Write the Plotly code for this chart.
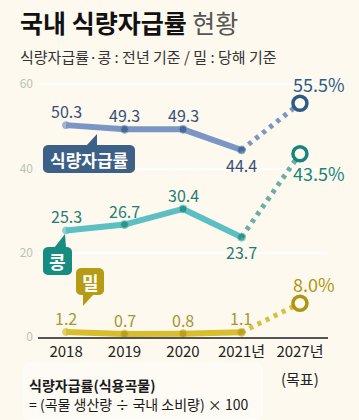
import math
import plotly.graph_objects as go

# ---------------- data ----------------
years = ["2018", "2019", "2020", "2021년", "2027년"]
target_note = "(목표)"
x_idx = [0, 1, 2, 3]
x_target = 4

food = [50.3, 49.3, 49.3, 44.4]
food_target = 55.5
soy = [25.3, 26.7, 30.4, 23.7]
soy_target = 43.5
wheat = [1.2, 0.7, 0.8, 1.1]
wheat_target = 8.0

y_ticks = [0, 20, 40, 60]

# ---------------- style ----------------
BG = "#fdf9ee"
FONT = "Noto Sans CJK KR"
W, H = 359, 420
ML, MR, MT, MB = 38, 31, 59, 83
PW, PH = W - ML - MR, H - MT - MB


def P(px, py):
    return (px - ML) / PW, (H - MB - py) / PH


series = [
    dict(name="식량자급률", y=food, t=food_target, line="#7b96c4", dot="#7b96c4",
         mk="#2e5b86", txt="#36507a", box="#3d6186",
         pos=[1, 1, 1, -1], tshift=(19, 19)),
    dict(name="콩", y=soy, t=soy_target, line="#5cc0c2", dot="#6aaea6",
         mk="#16857a", txt="#1f7d74", box="#178c80",
         pos=[1, 1, 1, -1], tshift=(19, -19)),
    dict(name="밀", y=wheat, t=wheat_target, line="#d8bd2e", dot="#d6c23a",
         mk="#ae9513", txt="#a89530", box="#b59c14",
         pos=[1, 1, 1, 1], tshift=(14, 19)),
]

fig = go.Figure()
annotations = []

for s in series:
    # projection (dotted)
    fig.add_trace(go.Scatter(
        x=[x_idx[-1], x_target], y=[s["y"][-1], s["t"]], mode="lines",
        line=dict(color=s["dot"], width=5, dash="4px,5px"),
        hoverinfo="skip", showlegend=False, cliponaxis=False))
    # solid line
    fig.add_trace(go.Scatter(
        x=x_idx, y=s["y"], mode="lines+markers",
        line=dict(color=s["line"], width=6),
        marker=dict(size=[7, 8, 8, 8], color=[s["line"], s["mk"], s["mk"], s["mk"]]),
        hoverinfo="skip", showlegend=False, cliponaxis=False))
    # target circle
    fig.add_trace(go.Scatter(
        x=[x_target], y=[s["t"]], mode="markers",
        marker=dict(size=14, color=BG, line=dict(color=s["mk"], width=3.5)),
        hoverinfo="skip", showlegend=False, cliponaxis=False))
    # value labels
    for xi, v, p in zip(x_idx, s["y"], s["pos"]):
        annotations.append(dict(
            x=xi, y=v, xref="x", yref="y", text=f"{v:.1f}", showarrow=False,
            yshift=14 if p > 0 else -15,
            font=dict(family=FONT, size=16, color=s["txt"])))
    annotations.append(dict(
        x=x_target, y=s["t"], xref="x", yref="y", text=f"{s['t']:.1f}%",
        showarrow=False, xshift=s["tshift"][0], yshift=s["tshift"][1],
        font=dict(family=FONT, size=18, color=s["mk"])))


# ------------- callout boxes -------------
def rounded_rect(x0, y0, x1, y1, r=5, n=6):
    pts = []
    corners = [(x1 - r, y0 + r, -90), (x1 - r, y1 - r, 0),
               (x0 + r, y1 - r, 90), (x0 + r, y0 + r, 180)]
    for cx, cy, a0 in corners:
        for k in range(n + 1):
            a = math.radians(a0 + 90 * k / n)
            pts.append((cx + r * math.cos(a), cy + r * math.sin(a)))
    return pts


def path_of(pts):
    s = []
    for i, (px, py) in enumerate(pts):
        x, y = P(px, py)
        s.append(("M" if i == 0 else "L") + f"{x:.5f},{y:.5f}")
    return " ".join(s) + " Z"


shapes = []
callouts = [
    (series[0], (43, 145, 135, 173), [(86, 146), (97, 146), (97, 134)], 17),
    (series[1], (43, 247, 72, 275), [(54, 248), (66, 248), (65, 234)], 18),
    (series[2], (76, 268, 104, 295), [(83, 294), (94, 294), (83, 306)], 18),
]
for s, (x0, y0, x1, y1), tri, fs in callouts:
    shapes.append(dict(type="path", xref="paper", yref="paper",
                       path=path_of(rounded_rect(x0, y0, x1, y1)),
                       fillcolor=s["box"], line=dict(width=0), layer="above"))
    shapes.append(dict(type="path", xref="paper", yref="paper",
                       path=path_of(tri), fillcolor=s["box"], line=dict(width=0),
                       layer="above"))
    cx, cy = P((x0 + x1) / 2, (y0 + y1) / 2)
    annotations.append(dict(x=cx, y=cy, xref="paper", yref="paper",
                            text=f"<b>{s['name']}</b>", showarrow=False,
                            xanchor="center", yanchor="middle",
                            font=dict(family=FONT, size=fs, color="white")))

# footer box
shapes.append(dict(type="path", xref="paper", yref="paper",
                   path=path_of(rounded_rect(24, 364, 262, 419, r=6)),
                   fillcolor="rgba(255,255,255,0.35)",
                   line=dict(color="rgba(255,255,255,0.9)", width=1), layer="below"))

# ------------- texts -------------
tx, ty = P(18, 22)
annotations.append(dict(
    x=tx, y=ty, xref="paper", yref="paper", xanchor="left", yanchor="middle",
    text="<b>국내 식량자급률</b> <span style='color:#555'>현황</span>",
    showarrow=False, font=dict(family=FONT, size=25, color="#111")))
sx, sy = P(18, 56)
annotations.append(dict(
    x=sx, y=sy, xref="paper", yref="paper", xanchor="left", yanchor="middle",
    text="식량자급률·콩 : 전년 기준 / 밀 : 당해 기준",
    showarrow=False, font=dict(family=FONT, size=15, color="#333")))
nx, ny = P(0, 378)
annotations.append(dict(
    x=x_target, y=ny, xref="x", yref="paper", xanchor="center", yanchor="middle",
    text=target_note, showarrow=False, font=dict(family=FONT, size=15, color="#222")))
fx, fy = P(27, 385)
annotations.append(dict(
    x=fx, y=fy, xref="paper", yref="paper", xanchor="left", yanchor="middle",
    text="<b>식량자급률(식용곡물)</b>", showarrow=False,
    font=dict(family=FONT, size=14, color="#1a1a1a")))
gx, gy = P(27, 404)
annotations.append(dict(
    x=gx, y=gy, xref="paper", yref="paper", xanchor="left", yanchor="middle",
    text="= (곡물 생산량 ÷ 국내 소비량) × 100", showarrow=False,
    font=dict(family=FONT, size=14, color="#1a1a1a")))

fig.update_layout(
    width=W, height=H,
    margin=dict(l=ML, r=MR, t=MT, b=MB, pad=0),
    paper_bgcolor=BG, plot_bgcolor=BG,
    showlegend=False,
    annotations=annotations, shapes=shapes,
    xaxis=dict(range=[-0.48, 4.48], tickvals=list(range(len(years))), ticktext=years,
               showgrid=False, zeroline=False, showline=True, linecolor="#555",
               linewidth=2, ticks="", fixedrange=True,
               tickfont=dict(family=FONT, size=15, color="#222")),
    yaxis=dict(range=[0, 66], tickvals=y_ticks, showgrid=True, gridcolor="#ffffff",
               gridwidth=1.5, zeroline=False, showline=False, ticks="",
               fixedrange=True, ticklabelstandoff=4,
               tickfont=dict(family=FONT, size=12, color="#b9c3b7")),
)

fig.write_html("out.html", config={"displayModeBar": False},
               post_script="document.body.style.margin='0px';document.body.style.background='%s';" % BG)
